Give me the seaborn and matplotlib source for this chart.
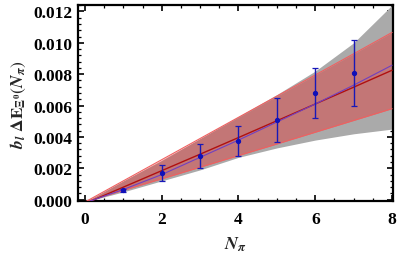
import numpy as np
import matplotlib
matplotlib.use("Agg")
import matplotlib.pyplot as plt
import seaborn as sns
from matplotlib.ticker import MultipleLocator, FormatStrFormatter

sns.set_style("ticks")
plt.rcParams["font.family"] = ["Liberation Serif", "DejaVu Serif"]
plt.rcParams["mathtext.fontset"] = "stix"

# lattice points
n_pi = [1, 2, 3, 4, 5, 6, 7]
dE = [0.0006, 0.0017, 0.0028, 0.00375, 0.0051, 0.0068, 0.0081]
dE_err = [0.0001, 0.0005, 0.00075, 0.00095, 0.0014, 0.0016, 0.0021]

# fit curves
x_fit = [0, 1, 2, 3, 4, 5, 6, 7, 8]
lin_mid = [-0.00025, 0.0008, 0.00185, 0.0029, 0.00396, 0.00503, 0.0061, 0.00717, 0.00825]
lin_lo = [-0.00015, 0.0006, 0.00133, 0.00207, 0.00281, 0.00355, 0.0043, 0.00505, 0.0058]
lin_hi = [-0.00015, 0.0012, 0.00255, 0.0039, 0.00525, 0.0066, 0.00795, 0.0093, 0.01066]
quad_mid = [-0.0002, 0.00065, 0.0016, 0.0027, 0.0038, 0.00495, 0.0061, 0.0073, 0.00857]
quad_lo = [-0.00015, 0.0005, 0.0012, 0.0019, 0.0027, 0.0033, 0.0038, 0.0042, 0.0045]
quad_hi = [-0.00015, 0.0012, 0.0025, 0.0039, 0.0053, 0.0067, 0.0082, 0.0100, 0.0124]

fig = plt.figure(figsize=(3.99, 2.55), dpi=100)
ax = fig.add_axes([0.1955, 0.208, 0.79, 0.768])

ax.fill_between(x_fit, quad_lo, quad_hi, color="#aaaaaa", lw=0, zorder=1)
ax.fill_between(x_fit, lin_lo, lin_hi, color="#e83030", alpha=0.42, lw=0, zorder=2)
ax.plot(x_fit, lin_lo, color="#f06060", lw=0.8, zorder=3)
ax.plot(x_fit, lin_hi, color="#f06060", lw=0.8, zorder=3)
ax.plot(x_fit, lin_mid, color="#b01010", lw=1.0, zorder=4)
ax.plot(x_fit, quad_mid, color="#7040c0", lw=0.8, zorder=4)

ax.errorbar(n_pi, dE, yerr=dE_err, fmt="o", ms=2.8, color="#1010b8",
            ecolor="#1818b8", elinewidth=1.0, capsize=2.5, capthick=0.9, zorder=5)

ax.set_xlim(-0.18, 8.03)
ax.set_ylim(-0.00008, 0.0124)
ax.xaxis.set_major_locator(MultipleLocator(2))
ax.xaxis.set_minor_locator(MultipleLocator(0.5))
ax.yaxis.set_major_locator(MultipleLocator(0.002))
ax.yaxis.set_minor_locator(MultipleLocator(0.0004))
ax.yaxis.set_major_formatter(FormatStrFormatter("%.3f"))

ax.tick_params(which="both", direction="in", top=True, right=True, colors="black")
ax.tick_params(which="major", length=4, width=1.2, labelsize=12.5, pad=4)
ax.tick_params(axis="x", which="major", pad=7)
ax.tick_params(which="minor", length=2, width=0.9)
for lab in ax.get_xticklabels() + ax.get_yticklabels():
    lab.set_fontweight("bold")
for sp in ax.spines.values():
    sp.set_linewidth(1.6)
    sp.set_color("black")

ax.set_xlabel(r"$\mathbfit{N}_{\mathbfit{\pi}}$", fontsize=13, labelpad=6)
ax.set_ylabel(r"$\mathbfit{b}_{\mathbfit{l}}\ \mathbf{\Delta E}_{\mathbf{\Xi}^{\mathbf{0}}}(\mathbfit{N}_{\mathbfit{\pi}})$",
              fontsize=12.5, labelpad=4)

fig.savefig("out.png", dpi=100)
